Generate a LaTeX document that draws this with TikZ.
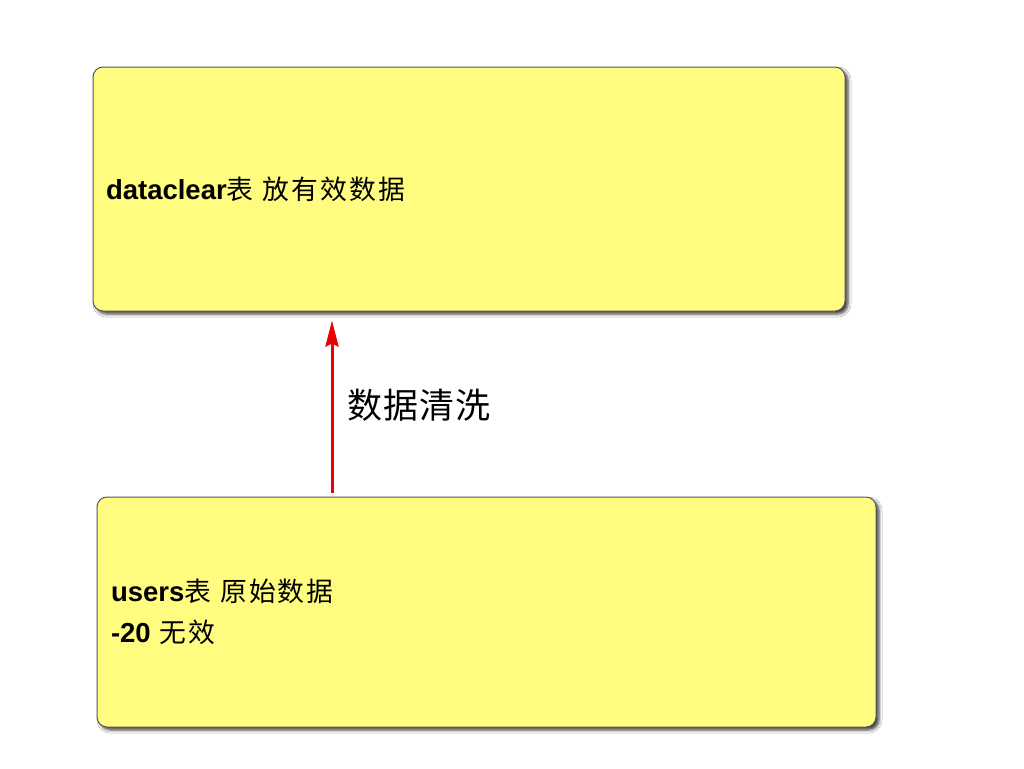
\documentclass[tikz,border=0pt]{standalone}
\usepackage{fontspec}
\setmainfont{Liberation Sans}
\newfontfamily\cjk[LetterSpace=8]{Noto Sans CJK SC}
\newfontfamily\cjklab[LetterSpace=3]{Noto Sans CJK SC}
\usetikzlibrary{shadows.blur,arrows.meta}
\definecolor{boxyellow}{RGB}{255,252,128}
\definecolor{boxedge}{RGB}{85,85,85}
\definecolor{arrred}{RGB}{238,0,0}
\newcommand{\lat}[1]{{\fontsize{27.5}{41}\selectfont\bfseries #1}}
\tikzset{
  note/.style={draw=boxedge, line width=1pt, fill=boxyellow, rounded corners=10pt,
    align=left, anchor=center, inner ysep=0pt,
    font=\fontsize{26.8}{41}\selectfont,
    blur shadow={shadow xshift=3pt, shadow yshift=-3pt, shadow blur radius=3pt, shadow opacity=75}},
  flow/.style={draw=arrred, line width=3pt, -{Stealth[length=26pt,width=13pt,inset=3pt]}},
  lab/.style={anchor=west, inner sep=0pt, font=\fontsize{35}{40}\selectfont\cjklab}
}
\begin{document}
\begin{tikzpicture}[x=1pt,y=-1pt]
\useasboundingbox (0,0) rectangle (1024,768);
\fill[white] (0,0) rectangle (1024,768);
\node[note, inner xsep=13pt, text width=726pt, minimum height=244pt] (top) at (469,189)
  {\lat{dataclear}{\cjk 表 放有效数据}};
\node[note, inner xsep=14pt, text width=751pt, minimum height=230pt] (bot) at (486.5,612)
  {\lat{users}{\cjk 表 原始数据}\\\lat{-20} {\cjk 无效}};
\coordinate (ax) at (332,400);
\draw[flow] ([yshift=4pt]bot.north -| ax) -- ([yshift=-9pt]top.south -| ax);
\node[lab] (lbl) at (347,405) {数据清洗};
\end{tikzpicture}
\end{document}
